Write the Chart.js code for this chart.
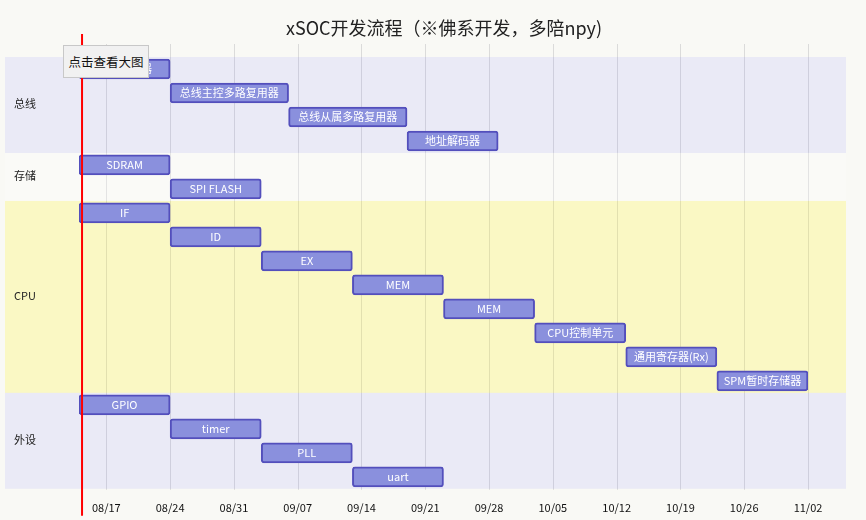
<!DOCTYPE html>
<html><head><meta charset="utf-8">
<script src="https://cdn.jsdelivr.net/npm/chart.js@4/dist/chart.umd.min.js"></script>
<style>
html,body{margin:0;padding:0;background:#f9f9f5;}
#wrap{position:relative;width:866px;height:520px;}
canvas{display:block;}
#btn{position:absolute;left:63px;top:45px;width:86px;height:33px;box-sizing:border-box;background:#f1f1f1;border:1px solid #c8c8c8;font:12.5px "Noto Sans CJK SC",sans-serif;color:#111;display:flex;align-items:center;justify-content:center;}
</style></head>
<body><div id="wrap"><canvas id="c" width="866" height="520"></canvas><div id="btn">点击查看大图</div></div>
<script>
const chartTitle = 'xSOC开发流程（※佛系开发，多陪npy)';
const sectionNames = ['总线', '存储', 'CPU', '外设'];
const taskSections = [0, 0, 0, 0, 1, 1, 2, 2, 2, 2, 2, 2, 2, 2, 3, 3, 3, 3];
const taskNames = ['总线仲裁器', '总线主控多路复用器', '总线从属多路复用器', '地址解码器',
  'SDRAM', 'SPI FLASH',
  'IF', 'ID', 'EX', 'MEM', 'MEM', 'CPU控制单元', '通用寄存器(Rx)', 'SPM暂时存储器',
  'GPIO', 'timer', 'PLL', 'uart'];
const taskStarts = ['2025-08-14', '2025-08-24', '2025-09-06', '2025-09-19',
  '2025-08-14', '2025-08-24',
  '2025-08-14', '2025-08-24', '2025-09-03', '2025-09-13', '2025-09-23', '2025-10-03', '2025-10-13', '2025-10-23',
  '2025-08-14', '2025-08-24', '2025-09-03', '2025-09-13'];
const taskEnds = ['2025-08-24', '2025-09-06', '2025-09-19', '2025-09-29',
  '2025-08-24', '2025-09-03',
  '2025-08-24', '2025-09-03', '2025-09-13', '2025-09-23', '2025-10-03', '2025-10-13', '2025-10-23', '2025-11-02',
  '2025-08-24', '2025-09-03', '2025-09-13', '2025-09-23'];
const tickDates = ['2025-08-17', '2025-08-24', '2025-08-31', '2025-09-07', '2025-09-14', '2025-09-21',
  '2025-09-28', '2025-10-05', '2025-10-12', '2025-10-19', '2025-10-26', '2025-11-02'];
const tickLabels = ['08/17', '08/24', '08/31', '09/07', '09/14', '09/21',
  '09/28', '10/05', '10/12', '10/19', '10/26', '11/02'];
const todayMarker = '2025-08-14T08:00:00';
const axisStart = '2025-08-14';
const axisEnd = '2025-11-02';
const sectionColors = ['rgba(102,102,255,0.098)', 'rgba(255,255,255,0.25)', 'rgba(255,244,0,0.2)', 'rgba(102,102,255,0.098)'];

const FONT = '"Noto Sans CJK SC", "Noto Sans", sans-serif';
const day = s => Date.parse((s.length === 10 ? s + 'T00:00:00' : s) + 'Z') / 86400000;

const ganttPlugin = {
  id: 'gantt',
  beforeDatasetsDraw(chart) {
    const ctx = chart.ctx, ca = chart.chartArea;
    const xs = chart.scales.x, ys = chart.scales.y;
    const bandL = ca.left - 74, bandR = ca.right + 38;
    ctx.save();
    ctx.strokeStyle = 'rgba(211,211,211,0.8)';
    ctx.lineWidth = 1;
    xs.ticks.forEach(t => {
      const x = Math.round(xs.getPixelForValue(t.value)) + 0.5;
      ctx.beginPath(); ctx.moveTo(x, ca.top - 13); ctx.lineTo(x, ca.bottom + 1); ctx.stroke();
    });
    const half = (ys.getPixelForValue(1) - ys.getPixelForValue(0)) / 2;
    sectionNames.forEach((name, s) => {
      const idx = taskSections.map((v, i) => v === s ? i : -1).filter(i => i >= 0);
      const top = ys.getPixelForValue(idx[0]) - half;
      const bot = ys.getPixelForValue(idx[idx.length - 1]) + half;
      ctx.fillStyle = sectionColors[s];
      ctx.fillRect(bandL, top, bandR - bandL, bot - top);
      ctx.fillStyle = '#222';
      ctx.font = '11px ' + FONT;
      ctx.textAlign = 'left'; ctx.textBaseline = 'middle';
      ctx.fillText(name, bandL + 9, (top + bot) / 2 - 1);
    });
    ctx.fillStyle = '#222';
    ctx.font = '18px ' + FONT;
    ctx.textAlign = 'center'; ctx.textBaseline = 'middle';
    ctx.fillText(chartTitle, chart.width / 2 + 11, 28);
    ctx.restore();
  },
  afterDatasetsDraw(chart) {
    const ctx = chart.ctx, ca = chart.chartArea;
    const meta = chart.getDatasetMeta(0);
    ctx.save();
    ctx.fillStyle = '#fff';
    ctx.font = '11px ' + FONT;
    ctx.textAlign = 'center'; ctx.textBaseline = 'middle';
    meta.data.forEach((bar, i) => {
      ctx.fillText(taskNames[i], (bar.x + bar.base) / 2, bar.y);
    });
    const xs = chart.scales.x;
    const tx = xs.getPixelForValue(day(todayMarker));
    ctx.strokeStyle = '#ff0000';
    ctx.lineWidth = 2;
    ctx.beginPath(); ctx.moveTo(tx, ca.top - 23); ctx.lineTo(tx, ca.bottom + 27); ctx.stroke();
    ctx.restore();
  }
};

new Chart(document.getElementById('c'), {
  type: 'bar',
  data: {
    labels: taskNames.map((n, i) => String(i)),
    datasets: [{
      data: taskStarts.map((s, i) => [day(s), day(taskEnds[i])]),
      backgroundColor: '#8a90dd',
      borderColor: '#534fbc',
      borderWidth: 2,
      borderRadius: 3,
      borderSkipped: false,
      barThickness: 20
    }]
  },
  options: {
    indexAxis: 'y',
    responsive: false,
    animation: false,
    layout: { padding: { left: 79, right: 58, top: 57, bottom: 2 } },
    plugins: { legend: { display: false }, tooltip: { enabled: false }, title: { display: false } },
    scales: {
      x: {
        type: 'linear',
        position: 'bottom',
        min: day(axisStart),
        max: day(axisEnd),
        grid: { display: false },
        border: { display: false },
        afterBuildTicks: scale => { scale.ticks = tickDates.map(d => ({ value: day(d) })); },
        ticks: {
          autoSkip: false, maxRotation: 0, padding: 4, color: '#111',
          font: { size: 11, family: FONT },
          callback: (v, i) => tickLabels[i]
        }
      },
      y: { display: false, offset: true }
    }
  },
  plugins: [ganttPlugin]
});
</script>
</body></html>
